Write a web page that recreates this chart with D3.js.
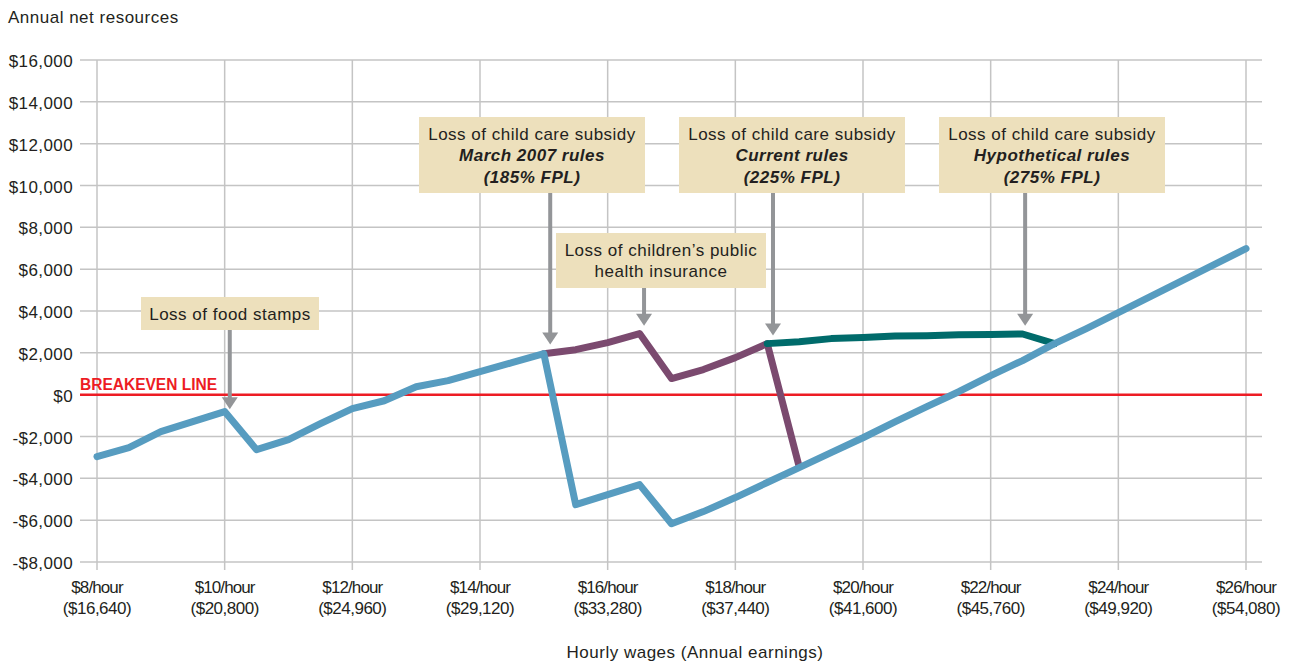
<!DOCTYPE html>
<html><head><meta charset="utf-8">
<script src="https://cdn.jsdelivr.net/npm/d3@7"></script>
<style>
body{margin:0;background:#fff;}
text{font-family:"Liberation Sans",Arial,sans-serif;fill:#231f20;}
</style></head>
<body><svg id="c" width="1297" height="662"></svg>
<script>
// ---- data ----
const wages = [8,8.5,9,9.5,10,10.5,11,11.5,12,12.5,13,13.5,14,14.5,15,15.5,16,16.5,17,17.5,18,18.5,19,19.5,20,20.5,21,21.5,22,22.5,23,23.5,24,24.5,25,25.5,26];
const baseValues = [-2960,-2530,-1770,-1290,-810,-2630,-2150,-1390,-670,-290,380,670,1100,1530,1960,-5260,-4780,-4300,-6170,-5590,-4920,-4200,-3490,-2770,-2060,-1300,-570,140,910,1630,2440,3160,3920,4690,5450,6220,6980];
const purpleWages = [15,15.5,16,16.5,17,17.5,18,18.5,19];
const purpleValues = [1960,2150,2490,2920,770,1200,1770,2440,-3440];
const greenWages = [18.5,19,19.5,20,20.5,21,21.5,22,22.5,23];
const greenValues = [2440,2530,2680,2730,2800,2820,2860,2880,2900,2440];
const xTicks = [8,10,12,14,16,18,20,22,24,26];
const xTickAnnual = ["$16,640","$20,800","$24,960","$29,120","$33,280","$37,440","$41,600","$45,760","$49,920","$54,080"];
const yTicks = [-8000,-6000,-4000,-2000,0,2000,4000,6000,8000,10000,12000,14000,16000];
const notes = [
  {x:10.08, tip:-700, lines:["Loss of food stamps"], box:[141,297,178,33]},
  {x:15.1, tip:2400, lines:["Loss of child care subsidy","March 2007 rules","(185% FPL)"], box:[419,117,226,76]},
  {x:16.57, tip:3300, lines:["Loss of children’s public","health insurance"], box:[556,233,210,55]},
  {x:18.59, tip:2830, lines:["Loss of child care subsidy","Current rules","(225% FPL)"], box:[679,117,226,76]},
  {x:22.54, tip:3300, lines:["Loss of child care subsidy","Hypothetical rules","(275% FPL)"], box:[939,117,226,76]}
];

const svg = d3.select("#c");
const x = d3.scaleLinear().domain([8,26]).range([97,1246]);
const y = d3.scaleLinear().domain([-8000,16000]).range([562,60]);

// grid
svg.append("g").selectAll("line").data(yTicks).join("line")
  .attr("x1",80).attr("x2",1262).attr("y1",d=>y(d)).attr("y2",d=>y(d))
  .attr("stroke","#c4c4c4").attr("stroke-width",1.5);
svg.append("g").selectAll("line").data(xTicks).join("line")
  .attr("x1",d=>x(d)).attr("x2",d=>x(d)).attr("y1",y(16000)).attr("y2",570)
  .attr("stroke","#c4c4c4").attr("stroke-width",1.5);

// y labels
const fmt = v => (v<0?"-":"")+"$"+d3.format(",")(Math.abs(v));
svg.append("g").selectAll("text").data(yTicks).join("text")
  .attr("x",73).attr("y",d=>y(d)+7).attr("text-anchor","end")
  .style("font-size","17px").style("letter-spacing","0.4px").text(fmt);

// x labels
const xl = svg.append("g").selectAll("text").data(xTicks).join("text")
  .attr("text-anchor","middle").style("font-size","17px");
xl.append("tspan").attr("x",d=>x(d)).attr("y",593).style("letter-spacing","-0.9px").text(d=>"$"+d+"/hour");
xl.append("tspan").attr("x",d=>x(d)).attr("y",614).style("letter-spacing","-0.5px").text((d,i)=>"("+xTickAnnual[i]+")");

svg.append("text").attr("x",8).attr("y",23).style("font-size","17px").style("letter-spacing","0.5px").text("Annual net resources");
svg.append("text").attr("x",695).attr("y",658).attr("text-anchor","middle").style("font-size","17px").style("letter-spacing","0.5px").text("Hourly wages (Annual earnings)");

// breakeven
svg.append("line").attr("x1",80).attr("x2",1262).attr("y1",y(0)).attr("y2",y(0))
  .attr("stroke","#ed1c24").attr("stroke-width",2.5);
svg.append("text").attr("x",80).attr("y",y(0)-5).style("font-size","16px").style("font-weight","bold")
  .style("fill","#ed1c24").attr("textLength",137).attr("lengthAdjust","spacingAndGlyphs").text("BREAKEVEN LINE");

// lines
const line = d3.line();
function draw(ws, vs, color){
  svg.append("path").attr("d", line(ws.map((w,i)=>[x(w),y(vs[i])])))
    .attr("fill","none").attr("stroke",color).attr("stroke-width",7)
    .attr("stroke-linejoin","round").attr("stroke-linecap","round");
}
draw(purpleWages,purpleValues,"#7b4a6f");
draw(greenWages,greenValues,"#006b6b");
draw(wages,baseValues,"#579cc0");

// annotations
notes.forEach(n=>{
  const [bx,by,bw,bh]=n.box;
  const ax=x(n.x), tipY=y(n.tip);
  svg.append("line").attr("x1",ax).attr("x2",ax).attr("y1",by+bh).attr("y2",tipY-10)
    .attr("stroke","#939598").attr("stroke-width",4);
  svg.append("path").attr("d",`M${ax-8},${tipY-12}L${ax+8},${tipY-12}L${ax},${tipY}Z`).attr("fill","#939598");
  svg.append("rect").attr("x",bx).attr("y",by).attr("width",bw).attr("height",bh).attr("fill","#ede0bc");
  const t = svg.append("text").attr("text-anchor","middle").style("font-size","17px").style("letter-spacing","0.5px");
  const lh = 21.5;
  const y0 = by + bh/2 - (n.lines.length-1)*lh/2 + 6;
  n.lines.forEach((l,i)=>{
    const ts = t.append("tspan").attr("x",bx+bw/2).attr("y",y0+i*lh).text(l);
    if(n.lines.length===3 && i>0) ts.style("font-weight","bold").style("font-style","italic");
  });
});
</script></body></html>
